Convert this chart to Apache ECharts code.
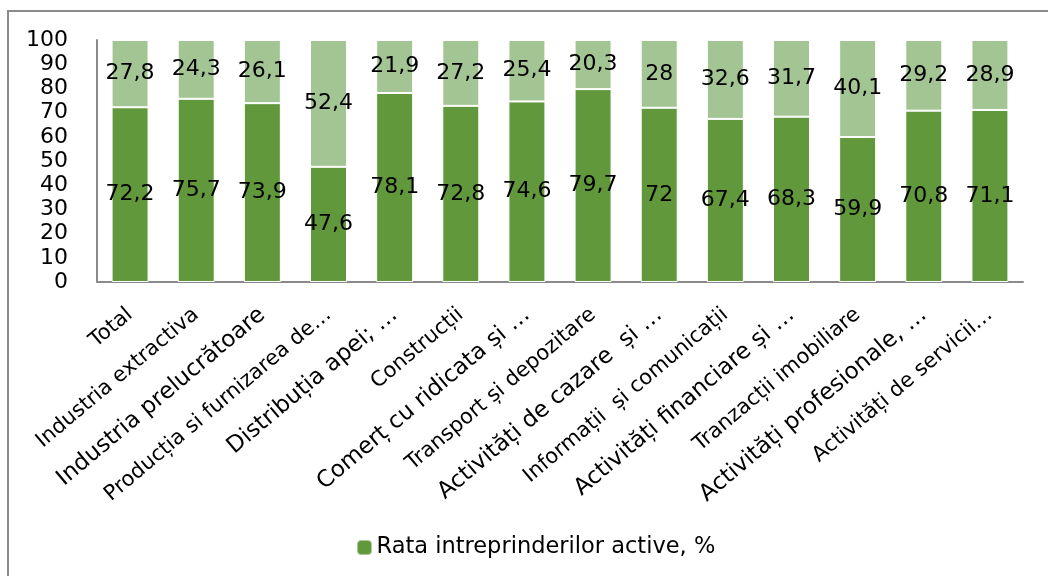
<!DOCTYPE html>
<html>
<head>
<meta charset="utf-8">
<script src="https://cdn.jsdelivr.net/npm/echarts@6/dist/echarts.min.js"></script>
<style>
  html, body { margin: 0; padding: 0; background: #fff; }
  #chart { width: 1048px; height: 576px; }
</style>
</head>
<body>
<div id="chart"></div>
<script>
// categories along the x axis (labels truncated as in the original)
const categories = [
  'Total',
  'Industria extractiva',
  'Industria prelucrătoare',
  'Producția si furnizarea de…',
  'Distribuția apei; …',
  'Construcții',
  'Comerț cu ridicata și …',
  'Transport și depozitare',
  'Activități de cazare  și …',
  'Informații  și comunicații',
  'Activități financiare și …',
  'Tranzacții imobiliare',
  'Activități profesionale, …',
  'Activități de servicii…'
];
// active share, %
const activeRate = [72.2, 75.7, 73.9, 47.6, 78.1, 72.8, 74.6, 79.7, 72, 67.4, 68.3, 59.9, 70.8, 71.1];
// remaining share, %
const inactiveRate = [27.8, 24.3, 26.1, 52.4, 21.9, 27.2, 25.4, 20.3, 28, 32.6, 31.7, 40.1, 29.2, 28.9];
const yTicks = { min: 0, max: 100, interval: 10 };

const FONT = 'DejaVu Sans';
const comma = (p) => String(p.value).replace('.', ',');

const chart = echarts.init(document.getElementById('chart'));
chart.setOption({
  animation: false,
  textStyle: { fontFamily: FONT },
  graphic: [{
    type: 'rect',
    shape: { x: 8, y: 11, width: 1100, height: 620 },
    style: { fill: 'none', stroke: '#8a8a8a', lineWidth: 2 },
    silent: true,
    z: -1
  }],
  grid: { left: 97, right: 25, top: 40, bottom: 294 },
  legend: {
    data: [{ name: 'Rata intreprinderilor active, %', itemStyle: { color: '#62983c', borderColor: '#a8c79a', borderWidth: 1 } }],
    bottom: 12,
    left: 352,
    itemWidth: 14,
    itemHeight: 14,
    itemGap: 6,
    textStyle: { fontFamily: FONT, fontSize: 22.5, color: '#000' }
  },
  xAxis: {
    type: 'category',
    data: categories,
    axisLine: { lineStyle: { color: '#8a8a8a', width: 2 } },
    axisTick: { show: false },
    axisLabel: {
      interval: 0,
      rotate: 40,
      margin: 30,
      fontFamily: FONT,
      color: '#000',
      // the source renders every other label a bit larger
      formatter: (v, i) => (i > 0 && i % 2 === 0 ? '{b|' + v + '}' : '{s|' + v + '}'),
      rich: {
        s: { fontFamily: FONT, fontSize: 21, color: '#000' },
        b: { fontFamily: FONT, fontSize: 23, color: '#000' }
      }
    }
  },
  yAxis: {
    type: 'value',
    min: yTicks.min,
    max: yTicks.max,
    interval: yTicks.interval,
    splitLine: { show: false },
    axisLine: { show: true, lineStyle: { color: '#8a8a8a', width: 2 } },
    axisTick: { show: false },
    axisLabel: { fontFamily: FONT, fontSize: 22, color: '#000', margin: 29 }
  },
  series: [
    {
      name: 'Rata intreprinderilor active, %',
      type: 'bar',
      stack: 'total',
      barWidth: 37,
      data: activeRate,
      itemStyle: { color: '#62983c', borderColor: '#ffffff', borderWidth: 1 },
      label: { show: true, position: 'inside', formatter: comma, fontFamily: FONT, fontSize: 22, color: '#000' }
    },
    {
      name: 'rest',
      type: 'bar',
      stack: 'total',
      barWidth: 37,
      data: inactiveRate,
      itemStyle: { color: '#a3c594', borderColor: '#ffffff', borderWidth: 1 },
      label: { show: true, position: 'inside', formatter: comma, fontFamily: FONT, fontSize: 22, color: '#000' }
    }
  ]
});
</script>
</body>
</html>
